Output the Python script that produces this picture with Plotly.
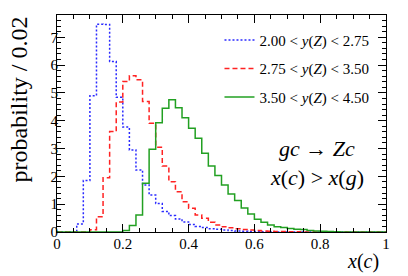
import plotly.graph_objects as go

bin_width = 0.02
n_bins = 50

# probability / 0.02 per bin (bins from 0.00 to 1.00, width 0.02)
blue_vals = [0, 0, 0, 0.29, 1.85, 4.90, 7.47, 7.46, 6.13, 4.84,
             3.77, 2.95, 2.23, 1.69, 1.33, 1.02, 0.74, 0.59, 0.47, 0.36,
             0.27, 0.20, 0.16, 0.12, 0.10, 0.07, 0.05, 0.04, 0.03, 0.02,
             0.02, 0.01, 0.01, 0, 0, 0, 0, 0, 0, 0,
             0, 0, 0, 0, 0, 0, 0, 0, 0, 0]
red_vals = [0, 0, 0, 0, 0, 0.08, 0.55, 1.95, 3.61, 4.67,
            5.41, 5.62, 5.47, 4.69, 3.91, 3.05, 2.37, 1.81, 1.45, 1.09,
            0.85, 0.61, 0.49, 0.35, 0.25, 0.19, 0.15, 0.12, 0.09, 0.07,
            0.05, 0.04, 0.03, 0.02, 0.02, 0.01, 0.01, 0, 0, 0,
            0, 0, 0, 0, 0, 0, 0, 0, 0, 0]
green_vals = [0, 0, 0, 0, 0, 0, 0, 0, 0, 0,
              0.05, 0.23, 0.61, 1.75, 2.97, 3.93, 4.45, 4.75, 4.47, 4.11,
              3.73, 3.37, 2.83, 2.37, 2.03, 1.69, 1.37, 1.13, 0.86, 0.65,
              0.46, 0.35, 0.25, 0.19, 0.16, 0.13, 0.10, 0.09, 0.05, 0.04,
              0.03, 0.02, 0.01, 0, 0, 0, 0, 0, 0, 0]

labels = ["2.00 &lt; <i>y</i>(<i>Z</i>) &lt; 2.75",
          "2.75 &lt; <i>y</i>(<i>Z</i>) &lt; 3.50",
          "3.50 &lt; <i>y</i>(<i>Z</i>) &lt; 4.50"]
colors = ["#2a2aff", "#ff2222", "#22a022"]
dashes = ["2px,2px", "5px,3px", "solid"]

x_ticks = [0, 0.2, 0.4, 0.6, 0.8, 1]
x_ticklabels = ["0", "0.2", "0.4", "0.6", "0.8", "1"]
y_ticks = [0, 1, 2, 3, 4, 5, 6, 7]

edges = [round(i * bin_width, 4) for i in range(n_bins + 1)]

FONT = "Liberation Serif"

fig = go.Figure()
for vals, lab, col, dsh in zip([blue_vals, red_vals, green_vals], labels, colors, dashes):
    fig.add_trace(go.Scatter(
        x=edges, y=vals + [vals[-1]], mode="lines",
        line=dict(shape="hv", color=col, dash=dsh, width=1.5),
        name=lab, legendgroup=lab,
    ))

axis_common = dict(
    showline=True, linecolor="black", linewidth=1, mirror="allticks",
    ticks="inside", tickcolor="black", showgrid=False, zeroline=False,
    tickfont=dict(family=FONT, size=15, color="black"),
)

fig.update_xaxes(range=[0, 1], tickvals=x_ticks, ticktext=x_ticklabels, ticklen=8,
                 ticklabelstandoff=-2,
                 minor=dict(ticks="inside", dtick=0.05, tick0=0, ticklen=4, tickcolor="black"),
                 **axis_common)
fig.update_yaxes(range=[0, 7.8], tickvals=y_ticks, ticklen=8,
                 ticklabelstandoff=-5,
                 minor=dict(ticks="inside", dtick=0.2, tick0=0, ticklen=4, tickcolor="black"),
                 **axis_common)

# page body adds an 8px margin; figure size/margins compensate so the plot area
# spans x 57..386 and y 15..232 in the 408x276 window
fig.update_layout(
    width=400, height=268,
    margin=dict(l=49, r=22, t=7, b=44),
    paper_bgcolor="white", plot_bgcolor="white",
    font=dict(family=FONT, color="black"),
    showlegend=True,
    legend=dict(x=0.965, xanchor="right", y=0.96, yanchor="top",
                bgcolor="rgba(0,0,0,0)", font=dict(family=FONT, size=15),
                tracegroupgap=6, itemwidth=30),
    annotations=[
        dict(text="<i>gc</i> → <i>Zc</i>", x=0.79, y=0.387, xref="paper", yref="paper",
             xanchor="center", yanchor="middle",
             showarrow=False, font=dict(family=FONT, size=22)),
        dict(text="<i>x</i>(<i>c</i>) &gt; <i>x</i>(<i>g</i>)", x=0.79, y=0.249,
             xanchor="center", yanchor="middle",
             xref="paper", yref="paper", showarrow=False, font=dict(family=FONT, size=22)),
        dict(text="<i>x</i>(<i>c</i>)", x=0.985, y=-0.138, xref="paper", yref="paper",
             xanchor="right", yanchor="middle", showarrow=False, font=dict(family=FONT, size=20)),
        dict(text="probability / 0.02", x=-0.117, y=1.0, xref="paper", yref="paper",
             xanchor="center", yanchor="top", textangle=-90, showarrow=False,
             font=dict(family=FONT, size=24)),
    ],
)

fig.write_html("out.html")
